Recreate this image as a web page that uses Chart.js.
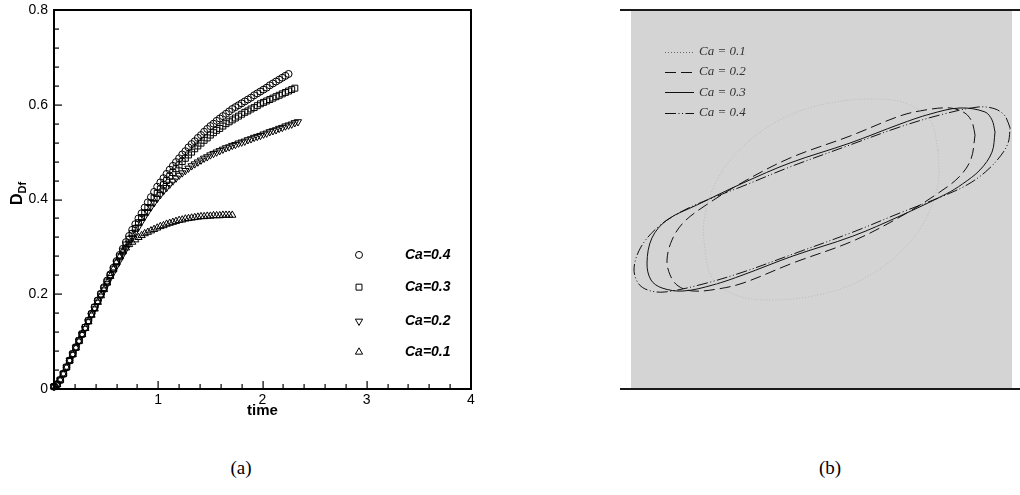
<!DOCTYPE html>
<html>
<head>
<meta charset="utf-8">
<title>Drop deformation</title>
<script src="https://cdn.jsdelivr.net/npm/chart.js@4.4.1/dist/chart.umd.min.js"></script>
<style>
  body { margin: 0; background: #fff; width: 1020px; height: 495px; position: relative; overflow: hidden; }
  canvas { position: absolute; top: 0; }
  #chart-a { left: 0; }
  #chart-b { left: 620px; }
  .caption { position: absolute; top: 456px; width: 60px; line-height: 24px; text-align: center;
    font-family: 'Liberation Serif', 'DejaVu Serif', serif; font-size: 19px; color: #000; }
</style>
</head>
<body>
<canvas id="chart-a" width="500" height="430"></canvas>
<canvas id="chart-b" width="400" height="430"></canvas>
<div class="caption" style="left: 211px;">(a)</div>
<div class="caption" style="left: 800px;">(b)</div>
<script>
'use strict';

// ***** DATA : DEFORMATION VS TIME *****
const time = [0, 0.03, 0.06, 0.09, 0.12, 0.15, 0.18, 0.21, 0.24, 0.27,
  0.3, 0.33, 0.36, 0.39, 0.42, 0.45, 0.48, 0.51, 0.54, 0.57,
  0.6, 0.63, 0.66, 0.69, 0.72, 0.75, 0.78, 0.81, 0.84, 0.87,
  0.9, 0.93, 0.96, 0.99, 1.02, 1.05, 1.08, 1.11, 1.14, 1.17,
  1.2, 1.23, 1.26, 1.29, 1.32, 1.35, 1.38, 1.41, 1.44, 1.47,
  1.5, 1.53, 1.56, 1.59, 1.62, 1.65, 1.68, 1.71, 1.74, 1.77,
  1.8, 1.83, 1.86, 1.89, 1.92, 1.95, 1.98, 2.01, 2.04, 2.07,
  2.1, 2.13, 2.16, 2.19, 2.22, 2.25, 2.28, 2.31, 2.34];

const deformCa04 = [0.005, 0.01, 0.019, 0.032, 0.046, 0.06, 0.074, 0.088, 0.102, 0.116,
  0.13, 0.144, 0.159, 0.173, 0.187, 0.201, 0.215, 0.229, 0.242, 0.256,
  0.27, 0.283, 0.296, 0.31, 0.323, 0.336, 0.348, 0.36, 0.371, 0.383,
  0.394, 0.405, 0.416, 0.427, 0.436, 0.445, 0.454, 0.463, 0.471, 0.479,
  0.487, 0.495, 0.502, 0.51, 0.517, 0.523, 0.53, 0.536, 0.543, 0.549,
  0.555, 0.56, 0.566, 0.571, 0.576, 0.581, 0.586, 0.591, 0.595, 0.599,
  0.603, 0.607, 0.611, 0.615, 0.62, 0.624, 0.628, 0.632, 0.636, 0.641,
  0.645, 0.649, 0.653, 0.657, 0.661, 0.665];

const deformCa03 = [0.005, 0.01, 0.019, 0.032, 0.046, 0.06, 0.074, 0.088, 0.102, 0.116,
  0.13, 0.144, 0.158, 0.172, 0.186, 0.2, 0.213, 0.226, 0.24, 0.253,
  0.266, 0.279, 0.291, 0.304, 0.316, 0.328, 0.339, 0.351, 0.362, 0.372,
  0.383, 0.393, 0.403, 0.413, 0.422, 0.431, 0.44, 0.449, 0.457, 0.465,
  0.473, 0.48, 0.487, 0.494, 0.5, 0.507, 0.513, 0.519, 0.525, 0.53,
  0.536, 0.541, 0.546, 0.55, 0.555, 0.56, 0.564, 0.568, 0.572, 0.576,
  0.58, 0.584, 0.587, 0.591, 0.594, 0.598, 0.602, 0.605, 0.608, 0.611,
  0.614, 0.617, 0.62, 0.623, 0.626, 0.629, 0.632, 0.635];

const deformCa02 = [0.005, 0.01, 0.019, 0.032, 0.046, 0.06, 0.073, 0.087, 0.101, 0.115,
  0.128, 0.142, 0.156, 0.169, 0.183, 0.196, 0.209, 0.222, 0.235, 0.247,
  0.26, 0.272, 0.284, 0.296, 0.308, 0.32, 0.331, 0.342, 0.353, 0.364,
  0.374, 0.384, 0.393, 0.402, 0.41, 0.418, 0.425, 0.432, 0.439, 0.445,
  0.451, 0.456, 0.461, 0.466, 0.471, 0.475, 0.479, 0.483, 0.487, 0.49,
  0.494, 0.497, 0.5, 0.503, 0.506, 0.509, 0.511, 0.514, 0.516, 0.519,
  0.521, 0.523, 0.526, 0.528, 0.531, 0.533, 0.535, 0.538, 0.54, 0.543,
  0.545, 0.547, 0.55, 0.552, 0.555, 0.557, 0.559, 0.562, 0.564];

const deformCa01 = [0.005, 0.01, 0.019, 0.032, 0.046, 0.06, 0.073, 0.087, 0.101, 0.115,
  0.128, 0.142, 0.156, 0.169, 0.183, 0.197, 0.21, 0.224, 0.238, 0.253,
  0.267, 0.279, 0.29, 0.298, 0.305, 0.31, 0.315, 0.32, 0.324, 0.328,
  0.331, 0.334, 0.337, 0.34, 0.343, 0.345, 0.348, 0.35, 0.352, 0.354,
  0.356, 0.357, 0.359, 0.36, 0.361, 0.362, 0.363, 0.364, 0.364, 0.365,
  0.365, 0.366, 0.366, 0.366, 0.367, 0.367, 0.367, 0.367];

const xTickLabels = ['', '1', '2', '3', '4'];
const yTickLabels = ['0', '0.2', '0.4', '0.6', '0.8'];

// ***** DATA : DROP OUTLINES (x, y in the flow domain) *****
const shapeCa01X = [6.12, 5.70, 4.38, 2.55, 0.45, -1.65, -3.75, -5.33, -6.12, -6.12, -5.70, -4.38, -2.55, -0.45, 1.65, 3.75, 5.33, 6.12, 6.12];
const shapeCa01Y = [2.61, 4.20, 5.09, 5.30, 5.09, 4.46, 3.14, 1.29, -0.82, -2.61, -4.20, -5.09, -5.30, -5.09, -4.46, -3.14, -1.29, 0.82, 2.61];

const shapeCa02X = [8.06, 7.90, 7.53, 6.75, 5.43, 4.12, 1.50, -1.65, -4.12, -6.22, -7.27, -7.85, -8.11, -7.95, -7.53, -6.75, -5.43, -4.12, -1.50, 1.65, 4.12, 6.22, 7.27, 7.85, 8.06];
const shapeCa02Y = [3.40, 4.09, 4.56, 4.83, 4.72, 4.41, 3.35, 2.19, 0.92, -0.40, -1.24, -2.14, -3.19, -3.98, -4.56, -4.83, -4.72, -4.41, -3.35, -2.19, -0.92, 0.40, 1.24, 2.14, 3.40];

const shapeCa03X = [9.11, 8.95, 8.58, 7.27, 5.70, 4.12, 1.50, -1.65, -4.12, -6.54, -8.11, -8.90, -9.16, -8.95, -8.37, -7.27, -5.70, -4.12, -1.50, 1.65, 4.12, 6.54, 7.40, 8.32, 8.95, 9.11];
const shapeCa03Y = [3.56, 4.20, 4.62, 4.83, 4.51, 3.98, 2.98, 1.93, 0.87, -0.29, -1.08, -2.03, -3.35, -4.25, -4.67, -4.83, -4.51, -3.98, -2.98, -1.93, -0.87, 0.29, 0.82, 1.56, 2.50, 3.56];

const shapeCa04X = [9.90, 9.63, 9.11, 8.22, 6.22, 4.12, 1.50, -1.65, -4.12, -6.38, -7.59, -8.64, -9.48, -9.84, -9.63, -9.11, -8.22, -6.22, -4.12, -1.50, 1.65, 4.12, 6.38, 7.64, 8.60, 9.40, 9.80, 9.90];
const shapeCa04Y = [3.77, 4.41, 4.78, 4.88, 4.46, 3.83, 2.88, 1.72, 0.71, -0.18, -0.77, -1.50, -2.51, -3.61, -4.41, -4.78, -4.88, -4.46, -3.83, -2.88, -1.72, -0.71, 0.18, 0.77, 1.45, 2.30, 3.00, 3.77];

// ***** HELPERS *****
function toPoints(xs, ys) {
  return ys.map((y, i) => ({ x: xs[i], y: y }));
}

function drawMarker(ctx, style, radius, rotation, x, y) {
  ctx.save();
  ctx.strokeStyle = '#000';
  ctx.fillStyle = 'rgba(0,0,0,0)';
  Chart.helpers.drawPoint(ctx, { pointStyle: style, radius: radius, rotation: rotation, borderWidth: 1 }, x, y);
  ctx.restore();
}

// ******* PANEL A : FRAME, INWARD TICKS, Y TITLE, LEGEND *******
const frameA = {
  id: 'frameA',
  afterDraw(chart) {
    const ctx = chart.ctx;
    const area = chart.chartArea;
    const xs = chart.scales.x;
    const ys = chart.scales.y;

    ctx.save();
    ctx.fillStyle = '#000';
    // minor every 0.2 on time, every 0.04 on D; majors are longer
    for (let i = 0; i <= 20; i++) {
      let px = Math.round(xs.getPixelForValue(i * 0.2));
      let len = i % 5 === 0 ? 8 : 5;
      ctx.fillRect(px - 0.5, area.bottom - len, 1.2, len);
    }
    for (let i = 0; i <= 20; i++) {
      let py = Math.round(ys.getPixelForValue(i * 0.04));
      let len = i % 5 === 0 ? 8 : 5;
      ctx.fillRect(area.left, py - 0.5, len, 1.2);
    }

    ctx.strokeStyle = '#000';
    ctx.lineWidth = 2;
    ctx.strokeRect(area.left, area.top, area.right - area.left, area.bottom - area.top);

    // D with subscript Df, turned on its side
    ctx.translate(16, (area.top + area.bottom) / 2 - 6);
    ctx.rotate(-Math.PI / 2);
    ctx.textBaseline = 'alphabetic';
    ctx.font = 'bold 16px "Liberation Sans", Arial, sans-serif';
    let wD = ctx.measureText('D').width;
    ctx.font = 'bold 11px "Liberation Sans", Arial, sans-serif';
    let wSub = ctx.measureText('Df').width;
    let x0 = -(wD + wSub) / 2;
    ctx.font = 'bold 16px "Liberation Sans", Arial, sans-serif';
    ctx.fillText('D', x0, 6);
    ctx.font = 'bold 11px "Liberation Sans", Arial, sans-serif';
    ctx.fillText('Df', x0 + wD, 10);
    ctx.restore();

    // legend entries
    ctx.save();
    ctx.font = 'italic bold 14px "Liberation Sans", Arial, sans-serif';
    ctx.fillStyle = '#000';
    ctx.textBaseline = 'middle';
    ctx.textAlign = 'left';
    const rows = [0.283, 0.215, 0.143, 0.078];
    chart.data.datasets.forEach((ds, i) => {
      let y = ys.getPixelForValue(rows[i]);
      let x = area.left + 305;
      drawMarker(ctx, ds.pointStyle, ds.pointRadius, ds.rotation || 0, x, y);
      ctx.fillText(ds.label, area.left + 351, y);
    });
    ctx.restore();
  }
};

// ******* PANEL B : GREY FIELD, WALLS, LEGEND *******
const frameB = {
  id: 'frameB',
  beforeDatasetsDraw(chart) {
    const ctx = chart.ctx;
    const area = chart.chartArea;
    ctx.save();
    ctx.fillStyle = '#d4d4d4';
    ctx.fillRect(area.left, area.top, area.right - area.left, area.bottom - area.top);
    ctx.restore();
  },
  afterDraw(chart) {
    const ctx = chart.ctx;
    const area = chart.chartArea;
    ctx.save();
    ctx.strokeStyle = '#1a1a1a';
    ctx.lineWidth = 2;
    ctx.beginPath();
    ctx.moveTo(0, area.top);
    ctx.lineTo(chart.width, area.top);
    ctx.moveTo(0, area.bottom);
    ctx.lineTo(chart.width, area.bottom);
    ctx.stroke();

    ctx.font = 'italic 13px "Liberation Serif", "Times New Roman", serif';
    ctx.textBaseline = 'middle';
    ctx.fillStyle = '#333';
    chart.data.datasets.forEach((ds, i) => {
      let y = area.top + 41.5 + i * 20.4;
      ctx.strokeStyle = ds.legendColor;
      ctx.lineWidth = 1;
      ctx.setLineDash(ds.borderDash);
      ctx.beginPath();
      ctx.moveTo(area.left + 34, Math.round(y) + 0.5);
      ctx.lineTo(area.left + 63, Math.round(y) + 0.5);
      ctx.stroke();
      ctx.setLineDash([]);
      ctx.fillText(ds.label, area.left + 68, y);
    });
    ctx.restore();
  }
};

// ******* CHART A *******
function renderDeformationChart() {
  const ctx = document.getElementById('chart-a').getContext('2d');
  const base = { showLine: false, borderColor: '#000', backgroundColor: 'rgba(0,0,0,0)', pointBorderWidth: 1, clip: false };

  new Chart(ctx, { // eslint-disable-line
    type: 'scatter',
    data: {
      datasets: [
        Object.assign({ label: 'Ca=0.4', data: toPoints(time, deformCa04), pointStyle: 'circle', pointRadius: 3.5 }, base),
        Object.assign({ label: 'Ca=0.3', data: toPoints(time, deformCa03), pointStyle: 'rect', pointRadius: 4.2 }, base),
        Object.assign({ label: 'Ca=0.2', data: toPoints(time, deformCa02), pointStyle: 'triangle', pointRadius: 4.2, rotation: 180 }, base),
        Object.assign({ label: 'Ca=0.1', data: toPoints(time, deformCa01), pointStyle: 'triangle', pointRadius: 4.2 }, base)
      ]
    },
    options: {
      responsive: false,
      animation: false,
      events: [],
      layout: { padding: { left: 0, top: 10, right: 29, bottom: 0 } },
      plugins: { legend: { display: false }, tooltip: { enabled: false } },
      scales: {
        x: {
          type: 'linear', min: 0, max: 4,
          grid: { display: false, drawTicks: false },
          border: { display: false },
          ticks: {
            stepSize: 1, padding: 3, color: '#000',
            font: { family: '"Liberation Sans", Arial, sans-serif', size: 14 },
            callback: (v) => xTickLabels[Math.round(v)]
          },
          title: {
            display: true, text: 'time', color: '#000',
            font: { family: '"Liberation Sans", Arial, sans-serif', size: 15, weight: 'bold' },
            padding: { top: 0, bottom: 10 }
          },
          afterFit: (s) => { s.height = 41; s.paddingLeft = 0; s.paddingRight = 0; }
        },
        y: {
          type: 'linear', min: 0, max: 0.8,
          grid: { display: false, drawTicks: false },
          border: { display: false },
          ticks: {
            stepSize: 0.2, padding: 6, color: '#000',
            font: { family: '"Liberation Sans", Arial, sans-serif', size: 14 },
            callback: (v) => yTickLabels[Math.round(v / 0.2)]
          },
          afterFit: (s) => { s.width = 54; s.paddingTop = 0; s.paddingBottom = 0; }
        }
      }
    },
    plugins: [frameA]
  });
}

// ******* CHART B *******
function renderShapeChart() {
  const ctx = document.getElementById('chart-b').getContext('2d');
  const base = { showLine: true, pointRadius: 0, borderWidth: 1, tension: 0.35, fill: false };

  new Chart(ctx, { // eslint-disable-line
    type: 'scatter',
    data: {
      datasets: [
        Object.assign({ label: 'Ca = 0.1', data: toPoints(shapeCa01X, shapeCa01Y), borderColor: '#bcbcbc', legendColor: '#666', borderDash: [1, 2] }, base),
        Object.assign({ label: 'Ca = 0.2', data: toPoints(shapeCa02X, shapeCa02Y), borderColor: '#111', legendColor: '#111', borderDash: [11, 5] }, base),
        Object.assign({ label: 'Ca = 0.3', data: toPoints(shapeCa03X, shapeCa03Y), borderColor: '#111', legendColor: '#111', borderDash: [] }, base),
        Object.assign({ label: 'Ca = 0.4', data: toPoints(shapeCa04X, shapeCa04Y), borderColor: '#111', legendColor: '#111', borderDash: [11, 2.5, 1, 2.5, 1, 2.5] }, base)
      ]
    },
    options: {
      responsive: false,
      animation: false,
      events: [],
      layout: { padding: { left: 11, top: 10, right: 8, bottom: 41 } },
      plugins: { legend: { display: false }, tooltip: { enabled: false } },
      scales: {
        x: { type: 'linear', min: -10, max: 10, display: false },
        y: { type: 'linear', min: -10, max: 10, display: false }
      }
    },
    plugins: [frameB]
  });
}

// ****** EXECUTABLE CODE *******
renderDeformationChart();
renderShapeChart();
</script>
</body>
</html>
